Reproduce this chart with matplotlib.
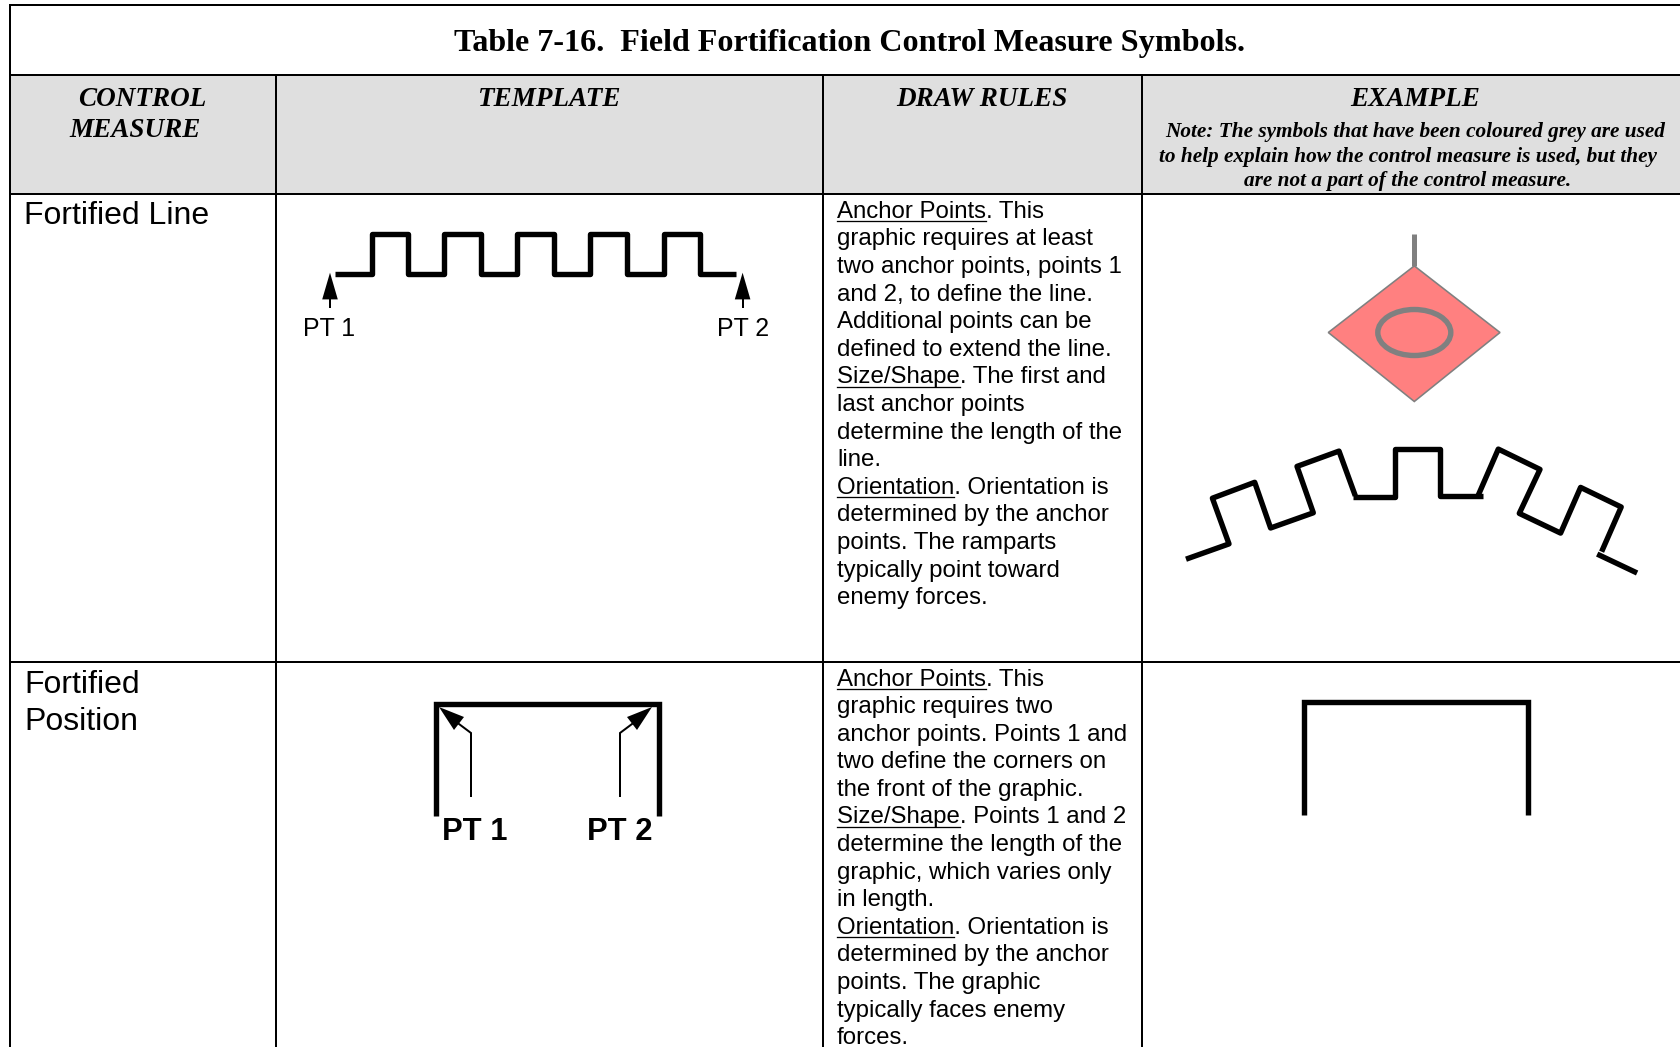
import matplotlib
matplotlib.use("Agg")
import matplotlib.pyplot as plt
from matplotlib.patches import Polygon, Ellipse, Rectangle

W, H = 1681, 1047
PT = 0.72  # points per pixel at dpi 100

title = "Table 7-16.  Field Fortification Control Measure Symbols."
headers = [("CONTROL", 142, 106), ("MEASURE", 135, 137), ("TEMPLATE", 549, 106),
           ("DRAW RULES", 982, 106), ("EXAMPLE", 1415, 106)]
note_lines = [("Note: The symbols that have been coloured grey are used", 1415, 137),
              ("to help explain how the control measure is used, but they", 1408, 162),
              ("are not a part of the control measure.", 1408, 186)]
row_labels = [("Fortified Line", 223.5), ("Fortified", 693), ("Position", 729.5)]

rules_1 = ["Anchor Points. This", "graphic requires at least", "two anchor points, points 1",
           "and 2, to define the line.", "Additional points can be", "defined to extend the line.",
           "Size/Shape. The first and", "last anchor points", "determine the length of the",
           "line.", "Orientation. Orientation is", "determined by the anchor",
           "points. The ramparts", "typically point toward", "enemy forces."]
rules_2 = ["Anchor Points. This", "graphic requires two", "anchor points. Points 1 and",
           "two define the corners on", "the front of the graphic.",
           "Size/Shape. Points 1 and 2", "determine the length of the",
           "graphic, which varies only", "in length.", "Orientation. Orientation is",
           "determined by the anchor", "points. The graphic", "typically faces enemy", "forces."]
underlined = ("Anchor Points", "Size/Shape", "Orientation")

col_x = [276, 823, 1142]
row_y = [75, 193.5, 661.5]

wave_x = [335, 372, 372, 408, 408, 444.4, 444.4, 481, 481, 517, 517, 554, 554, 590.5, 590.5,
          627, 627, 664, 664, 700, 700, 736.5]
wave_y = [273.6, 273.6, 234, 234, 273.6, 273.6, 234, 234, 273.6, 273.6, 234, 234,
          273.6, 273.6, 234, 234, 273.6, 273.6, 234, 234, 273.6, 273.6]

diamond_x = [1414.3, 1500, 1414.3, 1328.3]
diamond_y = [265.9, 332.5, 401.5, 332.5]

arc_parts = [
    ([1186, 1229, 1212.4, 1254.7, 1270.6, 1313.3, 1297, 1339, 1355.3],
     [559.2, 543.9, 498.2, 482.3, 528, 512.8, 466.4, 451.1, 495.8]),
    ([1352.6, 1394.6, 1394.6, 1440, 1440, 1483],
     [496.5, 496.5, 449, 449, 495.8, 495.8]),
    ([1478, 1498.3, 1540, 1519.3, 1560.6, 1580.6, 1621.2, 1601.6],
     [495.8, 449.1, 469.4, 513.4, 533.1, 487.4, 507, 551.7]),
    ([1597.2, 1637.1], [554.1, 573]),
]

position_tpl_x = [436, 436, 659, 659]
position_tpl_y = [816, 704, 704, 816]
position_ex_x = [1304, 1304, 1528, 1528]
position_ex_y = [815, 702, 702, 815]

plt.rcParams["font.family"] = ["Liberation Sans", "DejaVu Sans"]
fig = plt.figure(figsize=(W / 100, H / 100), dpi=100)
ax = fig.add_axes([0, 0, 1, 1])
ax.set_xlim(0, W)
ax.set_ylim(H, 0)
ax.axis("off")

# table
ax.add_patch(Rectangle((10, row_y[0]), W - 10, row_y[1] - row_y[0], fc="#DFDFDF", ec="none", zorder=0))
rule = dict(color="black", lw=2 * PT, solid_capstyle="projecting", zorder=1)
ax.plot([10, W], [5, 5], **rule)
ax.plot([10, 10], [5, H], **rule)
for y in row_y:
    ax.plot([10, W], [y, y], **rule)
for x in col_x:
    ax.plot([x, x], [row_y[0], H], **rule)

# titles
serif = "Liberation Serif"
ax.text(850, 51, title, family=serif, weight="bold", fontsize=23.15, ha="center", va="baseline")
for s, x, y in headers:
    ax.text(x, y, s, family=serif, weight="bold", style="italic", fontsize=19.5, ha="center", va="baseline")
for s, x, y in note_lines:
    ax.text(x, y, s, family=serif, weight="bold", style="italic", fontsize=15.28, ha="center", va="baseline")
for s, y in row_labels:
    ax.text(24.2, y, s, fontsize=23.0, va="baseline")

# draw rules text
renderer = fig.canvas.get_renderer()
def rules(lines, y0):
    for i, s in enumerate(lines):
        y = y0 + i * 27.6
        ax.text(837, y, s, fontsize=17.24, va="baseline")
        for u in underlined:
            if s.startswith(u):
                m = ax.text(837, y, u, fontsize=17.24, va="baseline")
                w = m.get_window_extent(renderer).width
                m.remove()
                ax.plot([837, 837 + w], [y + 3.5, y + 3.5], color="black", lw=1.3 * PT)
rules(rules_1, 217.8)
rules(rules_2, 685.5)

# fortified line template
ax.plot(wave_x, wave_y, color="black", lw=5.4 * PT, solid_joinstyle="round", solid_capstyle="butt")
for x, lab, tx in [(330, "PT 1", 329.5), (742.6, "PT 2", 743.3)]:
    ax.plot([x, x], [295, 308], color="black", lw=2 * PT, solid_capstyle="butt")
    ax.add_patch(Polygon([(x, 272.7), (x + 7.8, 299.4), (x - 7.8, 299.4)], fc="black", ec="none"))
    ax.text(tx, 335.6, lab, fontsize=17.9, ha="center", va="baseline")

# example 1
ax.plot([1414.3, 1414.3], [234.4, 266], color="#808080", lw=5 * PT, solid_capstyle="butt")
ax.add_patch(Polygon(list(zip(diamond_x, diamond_y)), fc="#FF8080", ec="#808080", lw=1.6 * PT, zorder=2))
ax.add_patch(Ellipse((1414.3, 332.5), 73, 46, fc="none", ec="#808080", lw=5.4 * PT, zorder=3))
for xs, ys in arc_parts:
    ax.plot(xs, ys, color="black", lw=5.4 * PT, solid_joinstyle="round", solid_capstyle="butt")

# fortified position template
ax.plot(position_tpl_x, position_tpl_y, color="black", lw=5.4 * PT, solid_joinstyle="miter", solid_capstyle="butt")
for (x0, x1, tx), lab in zip([(471, 439, 475), (620, 652, 620)], ["PT 1", "PT 2"]):
    ax.plot([x0, x0, x0 + (x1 - x0) * 0.6], [797, 733, 733 - 24 * 0.6], color="black", lw=2 * PT,
            solid_joinstyle="miter", solid_capstyle="butt")
    d = 1 if x1 > x0 else -1
    ax.add_patch(Polygon([(x1, 707), (x1 - d * 15, 730), (x1 - d * 25, 717)], fc="black", ec="none", zorder=4))
    ax.text(tx, 840, lab, fontsize=22.3, weight="bold", ha="center", va="baseline")

# example 2
ax.plot(position_ex_x, position_ex_y, color="black", lw=5.4 * PT, solid_joinstyle="miter", solid_capstyle="butt")

fig.savefig("out.png", dpi=100)
